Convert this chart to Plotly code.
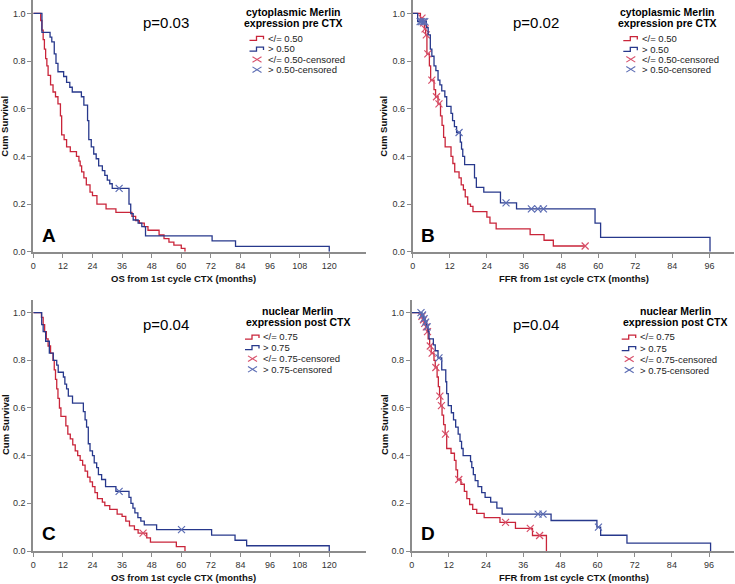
import plotly.graph_objects as go

W, H = 735, 584
FONT = "Liberation Sans, Arial, sans-serif"
RED, BLUE = "#C9253A", "#27388C"
RED_X, BLUE_X = "#D8506A", "#5C6DB4"
AX = "#8C8C8C"

# ---------------- data ----------------
# Panel A: OS, cytoplasmic Merlin pre CTX
A_low_t = [0, 3.0, 3.5, 4.0, 4.5, 5.0, 5.5, 6.0, 7.0, 8.0, 9.0, 10.0, 11.0, 11.5, 12.5, 13.5, 15.0, 17.5, 18.5, 19.0,
           19.6, 20.5, 21.5, 23.0, 24.0, 25.8, 29.5, 33.5, 40.0, 41.5, 43.0, 45.0, 46.5, 51.0, 53.0, 55.0, 57.0, 60.0, 61.5]
A_low_s = [1.0, 0.97, 0.93, 0.89, 0.85, 0.81, 0.78, 0.74, 0.70, 0.67, 0.65, 0.62, 0.57, 0.49, 0.47, 0.44, 0.42, 0.40, 0.38, 0.36,
           0.335, 0.31, 0.28, 0.25, 0.235, 0.20, 0.18, 0.165, 0.148, 0.13, 0.12, 0.105, 0.09, 0.07, 0.055, 0.04, 0.028, 0.014, 0.0]
A_low_end = 61.5
A_low_ct, A_low_cs = [], []
A_high_t = [0, 3.5, 6.8, 7.5, 8.5, 9.2, 10.0, 12.3, 13.5, 14.8, 15.8, 19.5, 20.5, 22.0, 22.5, 23.5, 24.5, 25.5, 26.5, 28.0,
            29.0, 30.0, 31.0, 32.0, 38.8, 39.5, 40.5, 42.5, 44.0, 45.5, 72.5, 82.0, 120.0]
A_high_s = [1.0, 0.92, 0.90, 0.88, 0.83, 0.79, 0.755, 0.735, 0.71, 0.69, 0.67, 0.65, 0.615, 0.55, 0.47, 0.44, 0.41, 0.39, 0.36, 0.34,
            0.32, 0.30, 0.285, 0.266, 0.20, 0.16, 0.133, 0.12, 0.105, 0.066, 0.045, 0.022, 0.0]
A_high_end = 120.0
A_high_ct, A_high_cs = [34.8], [0.266]

# Panel B: FFR, cytoplasmic Merlin pre CTX
B_low_t = [0, 2.5, 3.3, 3.8, 4.2, 4.6, 5.4, 5.8, 6.9, 7.4, 8.2, 9.0, 9.5, 10.0, 10.5, 12.4, 13.0, 13.6, 15.0, 15.7,
           16.4, 17.0, 17.8, 18.7, 19.5, 24.0, 25.0, 27.0, 38.0, 42.5, 45.5]
B_low_s = [1.0, 0.98, 0.96, 0.935, 0.91, 0.83, 0.78, 0.72, 0.68, 0.65, 0.62, 0.57, 0.53, 0.48, 0.44, 0.40, 0.37, 0.335, 0.31, 0.28,
           0.26, 0.23, 0.20, 0.19, 0.168, 0.145, 0.12, 0.096, 0.072, 0.048, 0.024]
B_low_end = 55.8
B_low_ct = [3.0, 3.5, 4.0, 4.4, 4.9, 6.2, 7.7, 8.5, 55.8]
B_low_cs = [0.98, 0.96, 0.935, 0.91, 0.83, 0.72, 0.65, 0.62, 0.024]
B_high_t = [0, 1.6, 4.4, 5.0, 5.7, 6.2, 6.9, 7.5, 8.2, 8.8, 9.4, 10.4, 11.0, 12.4, 12.9, 13.5, 14.2, 15.4, 15.8, 16.2,
            16.8, 20.0, 20.6, 23.0, 28.4, 33.6, 59.0, 60.8, 96.2]
B_high_s = [1.0, 0.965, 0.94, 0.91, 0.85, 0.82, 0.78, 0.76, 0.72, 0.70, 0.675, 0.65, 0.61, 0.58, 0.55, 0.525, 0.50, 0.46, 0.43, 0.40,
            0.365, 0.31, 0.27, 0.25, 0.205, 0.18, 0.12, 0.06, 0.0]
B_high_end = 96.2
B_high_ct = [2.4, 2.9, 3.4, 3.9, 15.0, 30.2, 38.4, 40.5, 42.3]
B_high_cs = [0.965, 0.965, 0.965, 0.965, 0.50, 0.205, 0.18, 0.18, 0.18]

# Panel C: OS, nuclear Merlin post CTX
C_low_t = [0, 3.3, 4.0, 4.6, 5.3, 6.0, 7.0, 8.0, 8.5, 9.0, 9.5, 10.0, 10.6, 11.2, 13.2, 14.0, 15.0, 16.0, 17.0, 18.0,
           19.0, 20.0, 21.0, 22.0, 23.0, 24.0, 25.0, 26.0, 28.0, 29.0, 31.0, 34.0, 36.0, 37.5, 39.0, 41.0, 42.5, 46.0, 47.5, 58.0, 61.5]
C_low_s = [1.0, 0.98, 0.95, 0.92, 0.89, 0.86, 0.83, 0.80, 0.76, 0.72, 0.68, 0.64, 0.60, 0.565, 0.525, 0.49, 0.47, 0.445, 0.42, 0.40,
           0.38, 0.36, 0.335, 0.31, 0.29, 0.27, 0.245, 0.22, 0.205, 0.19, 0.175, 0.155, 0.145, 0.125, 0.105, 0.09, 0.075, 0.055, 0.037, 0.018, 0.0]
C_low_end = 61.5
C_low_ct, C_low_cs = [44.5], [0.075]
C_high_t = [0, 3.4, 4.0, 5.0, 6.5, 8.1, 9.5, 10.1, 12.2, 12.8, 13.5, 14.2, 15.9, 20.3, 21.0, 21.6, 22.3, 23.0, 24.0, 24.7,
            25.7, 26.4, 27.7, 29.3, 33.5, 38.8, 39.6, 40.4, 41.2, 42.4, 43.6, 45.0, 50.0, 72.3, 81.8, 86.5, 120.0]
C_high_s = [1.0, 0.95, 0.92, 0.88, 0.83, 0.80, 0.78, 0.75, 0.73, 0.70, 0.68, 0.65, 0.62, 0.585, 0.55, 0.52, 0.45, 0.42, 0.40, 0.37,
            0.35, 0.32, 0.30, 0.27, 0.25, 0.225, 0.20, 0.18, 0.16, 0.14, 0.125, 0.11, 0.09, 0.067, 0.045, 0.022, 0.0]
C_high_end = 120.0
C_high_ct, C_high_cs = [34.8, 60.1], [0.25, 0.09]

# Panel D: FFR, nuclear Merlin post CTX
D_low_t = [0, 3.0, 3.5, 4.0, 4.5, 5.0, 5.3, 5.8, 6.3, 7.2, 7.6, 8.2, 8.6, 9.0, 9.4, 9.8, 10.3, 10.8, 11.3, 12.7,
           13.8, 14.3, 14.8, 15.9, 17.0, 17.8, 18.7, 19.7, 21.0, 23.4, 28.5, 33.5, 39.0, 43.5]
D_low_s = [1.0, 0.985, 0.97, 0.955, 0.94, 0.92, 0.89, 0.86, 0.83, 0.80, 0.77, 0.73, 0.69, 0.65, 0.61, 0.57, 0.53, 0.49, 0.43, 0.41,
           0.38, 0.34, 0.30, 0.28, 0.25, 0.22, 0.195, 0.175, 0.158, 0.14, 0.12, 0.095, 0.065, 0.0]
D_low_end = 43.5
D_low_ct = [3.3, 3.8, 4.2, 4.7, 5.1, 6.0, 6.6, 7.8, 9.1, 9.6, 10.9, 15.2, 30.3, 38.3, 41.3]
D_low_cs = [0.985, 0.97, 0.955, 0.94, 0.92, 0.86, 0.83, 0.77, 0.65, 0.61, 0.49, 0.30, 0.12, 0.095, 0.065]
D_high_t = [0, 3.3, 3.8, 4.3, 4.8, 5.3, 5.6, 7.0, 7.6, 8.5, 9.7, 11.0, 11.3, 11.8, 12.8, 13.5, 14.2, 15.0, 15.6, 16.1,
            16.6, 19.0, 19.4, 19.9, 20.5, 21.4, 22.6, 23.7, 25.5, 27.5, 29.2, 45.0, 59.8, 61.0, 69.5, 96.5]
D_high_s = [1.0, 0.99, 0.975, 0.96, 0.94, 0.92, 0.89, 0.865, 0.84, 0.81, 0.76, 0.71, 0.66, 0.61, 0.58, 0.55, 0.52, 0.49, 0.46, 0.43,
            0.40, 0.375, 0.35, 0.32, 0.295, 0.27, 0.245, 0.225, 0.205, 0.18, 0.155, 0.128, 0.10, 0.066, 0.033, 0.0]
D_high_end = 96.5
D_high_ct = [3.0, 3.5, 4.0, 4.5, 5.0, 8.8, 40.8, 42.4, 60.3]
D_high_cs = [1.0, 0.99, 0.975, 0.96, 0.94, 0.81, 0.155, 0.155, 0.10]

P_VALUES = ["p=0.03", "p=0.02", "p=0.04", "p=0.04"]
PANEL_LETTERS = ["A", "B", "C", "D"]
X_TITLES = ["OS from 1st cycle CTX (months)", "FFR from 1st cycle CTX (months)",
            "OS from 1st cycle CTX (months)", "FFR from 1st cycle CTX (months)"]
LEG_TITLES = [("cytoplasmic Merlin", "expression pre CTX")] * 2 + [("nuclear Merlin", "expression post CTX")] * 2
LEG_LABELS = [["&lt;/= 0.50", "&gt; 0.50", "&lt;/= 0.50-censored", "&gt; 0.50-censored"]] * 2 + \
             [["&lt;/= 0.75", "&gt; 0.75", "&lt;/= 0.75-censored", "&gt; 0.75-censored"]] * 2
OS_TICKS = [0, 12, 24, 36, 48, 60, 72, 84, 96, 108, 120]
FFR_TICKS = [0, 12, 24, 36, 48, 60, 72, 84, 96]
Y_TICKS = [0.0, 0.2, 0.4, 0.6, 0.8, 1.0]

# ---------------- layout geometry (pixels) ----------------
def pxx(x):
    return x / W

def pxy(y):
    return 1 - y / H

PANELS = [
    dict(x0=33.3, x1=366.0, yb=251.7, yt=0.0, xmax=134.9, ymax=1.056, ticks=OS_TICKS),
    dict(x0=412.7, x1=733.5, yb=251.7, yt=0.0, xmax=103.8, ymax=1.056, ticks=FFR_TICKS),
    dict(x0=33.3, x1=366.0, yb=551.0, yt=300.0, xmax=134.9, ymax=1.053, ticks=OS_TICKS),
    dict(x0=411.7, x1=733.5, yb=551.0, yt=300.0, xmax=103.9, ymax=1.053, ticks=FFR_TICKS),
]

CURVES = [
    ((A_low_t, A_low_s, A_low_end, A_low_ct, A_low_cs), (A_high_t, A_high_s, A_high_end, A_high_ct, A_high_cs)),
    ((B_low_t, B_low_s, B_low_end, B_low_ct, B_low_cs), (B_high_t, B_high_s, B_high_end, B_high_ct, B_high_cs)),
    ((C_low_t, C_low_s, C_low_end, C_low_ct, C_low_cs), (C_high_t, C_high_s, C_high_end, C_high_ct, C_high_cs)),
    ((D_low_t, D_low_s, D_low_end, D_low_ct, D_low_cs), (D_high_t, D_high_s, D_high_end, D_high_ct, D_high_cs)),
]

fig = go.Figure()
annotations = []
shapes = []


def ann(x, y, text, size, color="#000", xanchor="center", angle=0):
    annotations.append(dict(x=pxx(x), y=pxy(y), xref="paper", yref="paper", text=text, showarrow=False,
                            xanchor=xanchor, yanchor="middle", textangle=angle,
                            font=dict(family=FONT, size=size, color=color)))


for i, (pan, curves) in enumerate(zip(PANELS, CURVES)):
    n = "" if i == 0 else str(i + 1)
    xa, ya = "x" + n, "y" + n
    for (t, s, end, ct, cs), col, colx in zip(curves, (RED, BLUE), (RED_X, BLUE_X)):
        xs, ys = list(t), list(s)
        if end > xs[-1]:
            xs.append(end)
            ys.append(ys[-1])
        fig.add_trace(go.Scatter(x=xs, y=ys, mode="lines", line=dict(color=col, width=1.3, shape="hv"),
                                 xaxis=xa, yaxis=ya, showlegend=False, hoverinfo="skip", cliponaxis=False))
        if ct:
            fig.add_trace(go.Scatter(x=ct, y=cs, mode="markers",
                                     marker=dict(symbol="x-thin", size=7, line=dict(width=1.2, color=colx)),
                                     xaxis=xa, yaxis=ya, showlegend=False, hoverinfo="skip", cliponaxis=False))
    axis_common = dict(showgrid=False, zeroline=False, showline=True, linecolor=AX, linewidth=2,
                       ticks="outside", ticklen=4, tickwidth=1, tickcolor=AX, automargin=False,
                       tickfont=dict(family=FONT, size=9, color="#333333"))
    fig.update_layout(**{
        "xaxis" + n: dict(domain=[pxx(pan["x0"]), pxx(pan["x1"])], range=[0, pan["xmax"]],
                          tickvals=pan["ticks"], anchor=ya, **axis_common),
        "yaxis" + n: dict(domain=[pxy(pan["yb"]), pxy(pan["yt"])], range=[0, pan["ymax"]],
                          tickvals=Y_TICKS, tickformat=".1f", anchor=xa, **axis_common),
    })

    left = (i % 2 == 0)
    top = (i < 2)
    ann(183.5 if left else 574.0, pan["yb"] + 26.3, "<b>" + X_TITLES[i] + "</b>", 9.5, "#111")
    ann(5 if left else 384, 126.7 if top else 425.0, "<b>Cum Survival</b>", 9.5, "#111", angle=-90)
    ann(165.5 if left else 535.7, 22.7 if top else 325.0, P_VALUES[i], 15)
    ann(49.3 if left else 428.3, 235.0 if top else 533.3, "<b>" + PANEL_LETTERS[i] + "</b>", 19)

# ---------------- legends ----------------
LEG_GEOM = [
    dict(cx=293.0, ty=(12.3, 23.3), ix=249.5, tx=265.5, rows=(38.0, 48.7, 59.5, 69.7)),
    dict(cx=667.7, ty=(12.3, 23.3), ix=623.3, tx=639.5, rows=(38.3, 49.0, 59.3, 69.3)),
    dict(cx=297.7, ty=(310.7, 322.3), ix=245.0, tx=261.0, rows=(336.7, 347.3, 358.7, 369.3)),
    dict(cx=675.0, ty=(310.7, 322.3), ix=621.7, tx=637.7, rows=(336.7, 348.3, 359.0, 370.0)),
]

for i, g in enumerate(LEG_GEOM):
    for line, yy in zip(LEG_TITLES[i], g["ty"]):
        ann(g["cx"], yy, "<b>" + line + "</b>", 10.5)
    labels = LEG_LABELS[i]
    for k, (yy, lab) in enumerate(zip(g["rows"], labels)):
        ix = g["ix"]
        if k < 2:
            col = RED if k == 0 else BLUE
            path = "M {},{} L {},{} L {},{} L {},{} L {},{}".format(
                pxx(ix), pxy(yy + 2.4), pxx(ix + 7), pxy(yy + 2.4), pxx(ix + 7), pxy(yy - 1.6),
                pxx(ix + 14), pxy(yy - 1.6), pxx(ix + 14), pxy(yy + 1.2))
            shapes.append(dict(type="path", path=path, xref="paper", yref="paper",
                               line=dict(color=col, width=1.3)))
        else:
            col = RED_X if k == 2 else BLUE_X
            for (a, b, c, d) in ((ix + 3, yy - 2.8, ix + 12, yy + 2.8), (ix + 3, yy + 2.8, ix + 12, yy - 2.8)):
                shapes.append(dict(type="line", xref="paper", yref="paper", x0=pxx(a), y0=pxy(b), x1=pxx(c),
                                   y1=pxy(d), line=dict(color=col, width=1.1)))
        ann(g["tx"], yy, lab, 9.5, "#222", xanchor="left")

fig.update_layout(width=W, height=H, margin=dict(l=0, r=0, t=0, b=0, autoexpand=False),
                  paper_bgcolor="white", plot_bgcolor="white",
                  annotations=annotations, shapes=shapes, showlegend=False)

fig.write_html("out.html", config={"displayModeBar": False},
               post_script="document.body.style.margin='0';document.body.style.overflow='hidden';")
